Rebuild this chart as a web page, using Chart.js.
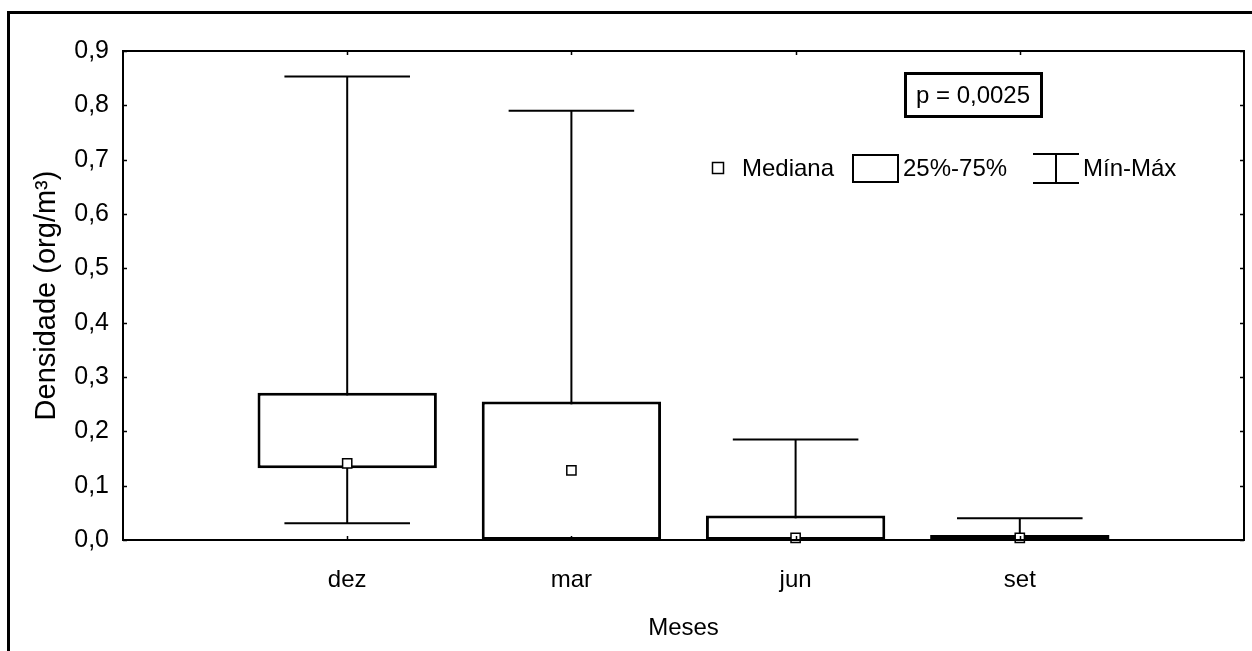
<!DOCTYPE html>
<html>
<head>
<meta charset="utf-8">
<script src="https://cdn.jsdelivr.net/npm/chart.js@4/dist/chart.umd.min.js"></script>
<style>
  html, body { margin: 0; padding: 0; background: #fff; }
  #wrap { position: relative; width: 1252px; height: 651px; }
</style>
</head>
<body>
<div id="wrap"><canvas id="c" width="1252" height="651"></canvas></div>
<script>
// Density per month: min, quartiles, median and max
const categories = ['dez', 'mar', 'jun', 'set'];
const minimum = [0.031, 0.000, 0.000, 0.000];
const q1      = [0.132, 0.000, 0.000, 0.000];
const median  = [0.141, 0.128, 0.004, 0.004];
const q3      = [0.271, 0.255, 0.045, 0.009];
const maximum = [0.853, 0.790, 0.185, 0.040];
const yTickValues = [0, 0.1, 0.2, 0.3, 0.4, 0.5, 0.6, 0.7, 0.8, 0.9];
const pValueText = 'p = 0,0025';
const legendLabels = ['Mediana', '25%-75%', 'Mín-Máx'];

const FONT = '"Liberation Sans", Arial, Helvetica, sans-serif';
const CAP = 0.28; // half width of whisker caps, in category units

// whisker stems and caps as one broken line
const whiskerPts = [];
categories.forEach((c, i) => {
  const x = i + 1;
  whiskerPts.push({x: x, y: minimum[i]}, {x: x, y: maximum[i]}, {x: x, y: null});
  whiskerPts.push({x: x - CAP, y: minimum[i]}, {x: x + CAP, y: minimum[i]}, {x: x, y: null});
  whiskerPts.push({x: x - CAP, y: maximum[i]}, {x: x + CAP, y: maximum[i]}, {x: x, y: null});
});

const decorations = {
  id: 'decorations',
  beforeDraw(chart) {
    const ctx = chart.ctx;
    ctx.save();
    ctx.fillStyle = '#fff';
    ctx.fillRect(0, 0, chart.width, chart.height);
    // outer frame (top and left edges)
    ctx.strokeStyle = '#000';
    ctx.lineWidth = 3;
    ctx.beginPath();
    ctx.moveTo(8.5, chart.height);
    ctx.lineTo(8.5, 12.5);
    ctx.lineTo(chart.width, 12.5);
    ctx.stroke();
    ctx.restore();
  },
  afterDraw(chart) {
    const ctx = chart.ctx;
    const a = chart.chartArea;
    const xs = chart.scales.x, ys = chart.scales.y;
    ctx.save();
    ctx.strokeStyle = '#000';
    ctx.lineWidth = 2;
    ctx.strokeRect(a.left, a.top, a.right - a.left, a.bottom - a.top);
    // inward tick marks
    ctx.lineWidth = 1.5;
    ctx.beginPath();
    yTickValues.forEach(v => {
      const py = Math.round(ys.getPixelForValue(v)) + 0.5;
      ctx.moveTo(a.left, py); ctx.lineTo(a.left + 4, py);
      ctx.moveTo(a.right, py); ctx.lineTo(a.right - 4, py);
    });
    categories.forEach((c, i) => {
      const px = Math.round(xs.getPixelForValue(i + 1)) + 0.5;
      ctx.moveTo(px, a.bottom); ctx.lineTo(px, a.bottom - 4);
      ctx.moveTo(px, a.top); ctx.lineTo(px, a.top + 4);
    });
    ctx.stroke();

    // p-value box
    ctx.lineWidth = 3;
    ctx.strokeRect(905.5, 73.5, 136, 43);
    ctx.fillStyle = '#000';
    ctx.font = '24px ' + FONT;
    ctx.textAlign = 'center';
    ctx.textBaseline = 'middle';
    ctx.fillText(pValueText, 973, 96);

    // legend
    ctx.textAlign = 'left';
    const ly = 169;
    ctx.lineWidth = 1.5;
    ctx.fillStyle = '#fff';
    ctx.fillRect(712.5, ly - 6.5, 11, 11);
    ctx.strokeRect(712.5, ly - 6.5, 11, 11);
    ctx.fillStyle = '#000';
    ctx.fillText(legendLabels[0], 742, ly);

    ctx.lineWidth = 2;
    ctx.strokeRect(853, 155, 45, 27);
    ctx.fillText(legendLabels[1], 903, ly);

    ctx.beginPath();
    ctx.moveTo(1033, 154); ctx.lineTo(1079, 154);
    ctx.moveTo(1033, 183); ctx.lineTo(1079, 183);
    ctx.moveTo(1056, 154); ctx.lineTo(1056, 183);
    ctx.stroke();
    ctx.fillText(legendLabels[2], 1083, ly);
    ctx.restore();
  }
};

new Chart(document.getElementById('c'), {
  type: 'bar',
  data: {
    datasets: [
      {
        type: 'scatter',
        label: legendLabels[0],
        data: categories.map((c, i) => ({x: i + 1, y: median[i]})),
        pointStyle: 'rect',
        pointRadius: 6.5,
        pointBackgroundColor: '#fff',
        pointBorderColor: '#000',
        pointBorderWidth: 1.5,
        order: 0,
        clip: false
      },
      {
        type: 'bar',
        label: legendLabels[1],
        data: categories.map((c, i) => ({x: i + 1, y: [q1[i], q3[i]]})),
        backgroundColor: '#fff',
        borderColor: '#000',
        borderWidth: 3,
        borderSkipped: false,
        barPercentage: 0.8,
        categoryPercentage: 1.0,
        order: 1,
        clip: false
      },
      {
        type: 'line',
        label: legendLabels[2],
        data: whiskerPts,
        borderColor: '#000',
        borderWidth: 2,
        pointRadius: 0,
        spanGaps: false,
        tension: 0,
        order: 2,
        clip: false
      }
    ]
  },
  options: {
    responsive: false,
    animation: false,
    devicePixelRatio: 1,
    layout: { padding: { left: 0, top: 51, right: 3, bottom: 0 } },
    plugins: { legend: { display: false }, tooltip: { enabled: false } },
    scales: {
      x: {
        type: 'linear',
        offset: false,
        min: 0, max: categories.length + 1,
        grid: { display: false, drawTicks: false, offset: false },
        border: { display: false },
        afterFit(s) { s.height = 111; },
        afterBuildTicks(s) { s.ticks = categories.map((c, i) => ({value: i + 1})); },
        ticks: {
          padding: 26,
          color: '#000',
          font: { family: FONT, size: 24 },
          callback: v => categories[v - 1] || ''
        },
        title: {
          display: true, text: 'Meses', color: '#000',
          font: { family: FONT, size: 24 },
          padding: { top: 0, bottom: 8 }
        }
      },
      y: {
        min: 0, max: 0.9,
        grid: { display: false, drawTicks: false },
        border: { display: false },
        afterFit(s) { s.width = 123; },
        afterBuildTicks(s) { s.ticks = yTickValues.map(v => ({value: v})); },
        ticks: {
          padding: 14,
          color: '#000',
          font: { family: FONT, size: 25 },
          callback: v => v.toFixed(1).replace('.', ',')
        },
        title: {
          display: true, text: 'Densidade (org/m³)', color: '#000',
          font: { family: FONT, size: 29 },
          padding: { top: 30, bottom: 0 }
        }
      }
    }
  },
  plugins: [decorations]
});
</script>
</body>
</html>
